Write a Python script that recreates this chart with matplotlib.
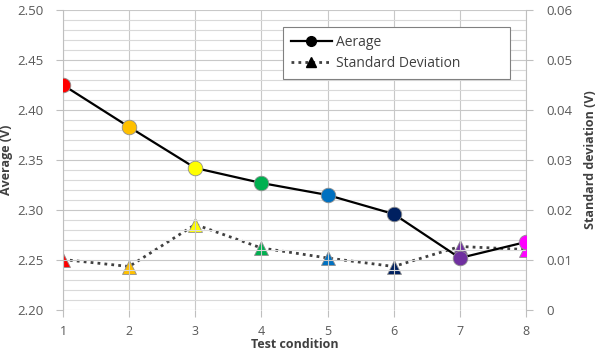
import matplotlib
matplotlib.use("Agg")
import matplotlib.pyplot as plt
from matplotlib.ticker import MultipleLocator
from matplotlib.lines import Line2D

conditions = [1, 2, 3, 4, 5, 6, 7, 8]
average = [2.425, 2.383, 2.342, 2.327, 2.315, 2.296, 2.252, 2.268]
std_dev = [0.0101, 0.0087, 0.0171, 0.0124, 0.0104, 0.0087, 0.0127, 0.0121]
colors = ["#FF0000", "#FFC000", "#FFFF00", "#00B050", "#0070C0", "#002060", "#7030A0", "#FF00FF"]
left_ticks = [2.20, 2.25, 2.30, 2.35, 2.40, 2.45, 2.50]
right_ticks = [0, 0.01, 0.02, 0.03, 0.04, 0.05, 0.06]
right_labels = ["0", "0.01", "0.02", "0.03", "0.04", "0.05", "0.06"]

plt.rcParams['font.family'] = ['Open Sans', 'DejaVu Sans']
tick_color = "#595959"

fig = plt.figure(figsize=(5.96, 3.52), dpi=100)
ax = fig.add_axes([63/596, 42/352, 463/596, 300/352])
ax2 = ax.twinx()

ax.set_xlim(1, 8)
ax.set_ylim(2.20, 2.50)
ax2.set_ylim(0, 0.06)

ax.yaxis.set_minor_locator(MultipleLocator(0.01))
ax.set_yticks(left_ticks)
ax.set_yticklabels([f"{v:.2f}" for v in left_ticks])
ax.set_xticks(conditions)
ax.set_xticklabels([str(c) for c in conditions])
ax2.set_yticks(right_ticks)
ax2.set_yticklabels(right_labels)

ax.grid(True, which='major', color="#C8C8C8", linewidth=0.8)
ax.grid(True, which='minor', axis='y', color="#D9D9D9", linewidth=0.8)
ax.set_axisbelow(True)

for a in (ax, ax2):
    for s in a.spines.values():
        s.set_visible(False)
ax.spines['left'].set_visible(True)
ax.spines['left'].set_color("#BFBFBF")
ax2.spines['right'].set_visible(True)
ax2.spines['right'].set_color("#BFBFBF")

ax.tick_params(axis='y', which='major', labelsize=9.5, colors=tick_color, length=5, width=0.8, pad=9)
ax.tick_params(axis='x', which='major', labelsize=9, colors=tick_color, length=5, width=0.8, pad=6)
ax.tick_params(axis='y', which='minor', length=0)
ax.tick_params(axis='both', which='major', color="#BFBFBF")
ax2.tick_params(axis='y', labelsize=9.5, colors=tick_color, length=5, width=0.8, pad=10)
ax2.tick_params(axis='y', color="#BFBFBF")

# Std dev on secondary axis (drawn below)
ax2.plot(conditions, std_dev, linestyle=(0, (1, 1.5)), color="#404040", linewidth=2.0, zorder=2)
for x, y, c in zip(conditions, std_dev, colors):
    ax2.plot(x, y, marker='^', markersize=10, markerfacecolor=c,
             markeredgecolor="#909090", markeredgewidth=0.6, linestyle='none', zorder=3)

# Average on primary axis
ax.set_zorder(ax2.get_zorder() + 1)
ax.patch.set_visible(False)
ax.plot(conditions, average, color="#000000", linewidth=1.6, zorder=4)
for x, y, c in zip(conditions, average, colors):
    ax.plot(x, y, marker='o', markersize=10.5, markerfacecolor=c,
            markeredgecolor="#909090", markeredgewidth=0.6, linestyle='none', zorder=5)

ax.set_ylabel("Average (V)", fontsize=9, fontweight='bold', color="#404040", labelpad=3)
ax2.set_ylabel("Standard deviation (V)", fontsize=9, fontweight='bold', color="#404040",
               rotation=90, labelpad=8)
ax.set_xlabel("Test condition", fontsize=9, fontweight='bold', color="#404040", labelpad=0)

# Legend
h1 = Line2D([], [], color='black', linewidth=1.6, marker='o', markersize=7, markerfacecolor='black')
h2 = Line2D([], [], color='#404040', linestyle=(0, (1, 1.5)), linewidth=2.0, marker='^',
            markersize=7, markerfacecolor='black', markeredgecolor='black')
leg = ax.legend([h1, h2], ["Aerage", "Standard Deviation"],
                loc='upper left',
                bbox_to_anchor=((283-63)/463, (310-77)/300, (510-283)/463, 50/300),
                mode='expand',
                fontsize=10, frameon=True, fancybox=False, edgecolor="#808080",
                framealpha=1, handlelength=3.0, handletextpad=0.3, borderpad=0.55,
                labelspacing=0.45, borderaxespad=0)
leg.get_frame().set_linewidth(0.8)
for t in leg.get_texts():
    t.set_color("#404040")

fig.savefig("out.png", dpi=100)
